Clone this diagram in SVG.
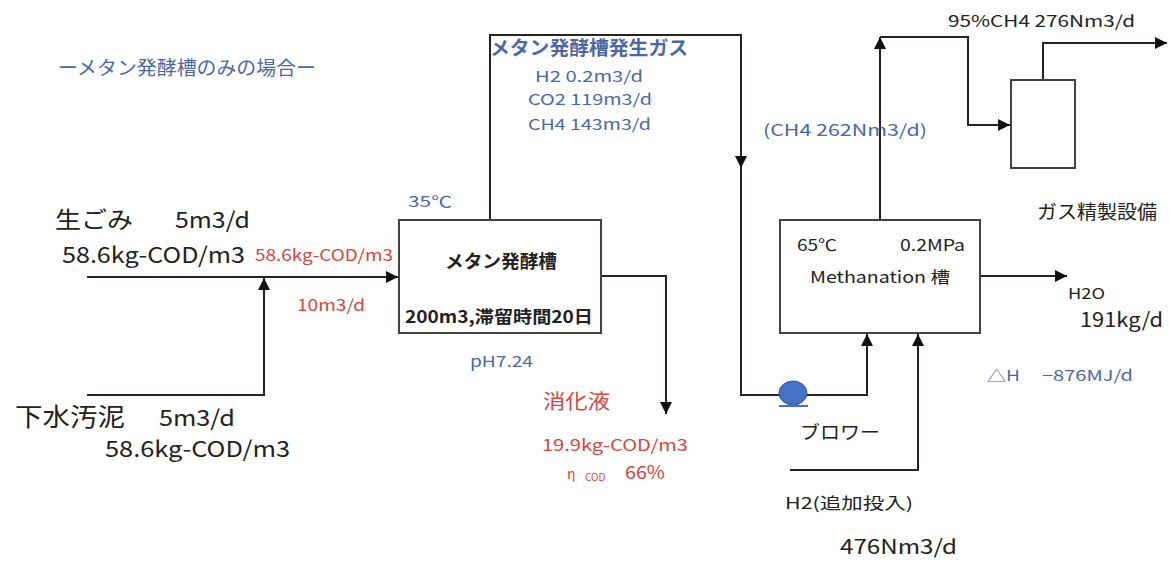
<svg xmlns="http://www.w3.org/2000/svg" width="1169" height="563" viewBox="0 0 1169 563">
<style>
text{font-family:"Noto Sans CJK JP","Liberation Sans",sans-serif;}
.k{fill:#222;}
.b{fill:#4a68a8;}
.r{fill:#d8453c;}
.box{fill:#fff;stroke:#4a4040;stroke-width:2;}
.ln{fill:none;stroke:#2a2222;stroke-width:2;}
.arr{marker-end:url(#ah);}
</style>
<defs>
<marker id="ah" viewBox="0 0 10 10" refX="10" refY="5" markerWidth="7" markerHeight="6" markerUnits="strokeWidth" orient="auto">
<path d="M0,0 L10,5 L0,10 Z" fill="#111"/>
</marker>
</defs>
<rect width="1169" height="563" fill="#fff"/>

<g id="connectors">
<path class="ln arr" d="M87,277 L398,277"/>
<path class="ln arr" d="M87,395 L264,395 L264,278"/>
<path class="ln" d="M490,220 L490,35 L741,35 L741,395 L867,395 L867,334"/>
<path class="ln arr" d="M741,35 L741,168"/>
<path class="ln arr" d="M867,395 L867,334"/>
<path class="ln arr" d="M601,276 L666,276 L666,414"/>
<path class="ln arr" d="M790,470 L918,470 L918,334"/>
<path class="ln arr" d="M880,220 L880,37"/>
<path class="ln arr" d="M880,37 L968,37 L968,125 L1010,125"/>
<path class="ln arr" d="M1043,80 L1043,43 L1167,43"/>
<path class="ln arr" d="M980,276 L1067,276"/>
</g>

<g id="title">
<text class="b" x="58" y="75" font-size="19" textLength="258" lengthAdjust="spacingAndGlyphs">ーメタン発酵槽のみの場合ー</text>
</g>

<g id="feed-garbage">
<text class="k" x="55" y="228" font-size="23" textLength="78" lengthAdjust="spacingAndGlyphs">生ごみ</text>
<text class="k" x="175" y="228" font-size="22" textLength="75" lengthAdjust="spacingAndGlyphs">5m3/d</text>
<text class="k" x="62" y="263" font-size="22" textLength="183" lengthAdjust="spacingAndGlyphs">58.6kg-COD/m3</text>
</g>

<g id="feed-sludge">
<text class="k" x="15" y="426" font-size="25" textLength="110" lengthAdjust="spacingAndGlyphs">下水汚泥</text>
<text class="k" x="159" y="426" font-size="22" textLength="76" lengthAdjust="spacingAndGlyphs">5m3/d</text>
<text class="k" x="105" y="457" font-size="22" textLength="185" lengthAdjust="spacingAndGlyphs">58.6kg-COD/m3</text>
</g>

<g id="mixed-feed">
<text class="r" x="255" y="261" font-size="16" textLength="138" lengthAdjust="spacingAndGlyphs">58.6kg-COD/m3</text>
<text class="r" x="297" y="311" font-size="16" textLength="68" lengthAdjust="spacingAndGlyphs">10m3/d</text>
</g>

<g id="digester">
<rect class="box" x="399" y="220" width="202" height="113"/>
<text class="k" x="445" y="268" font-size="18" font-weight="bold" textLength="112" lengthAdjust="spacingAndGlyphs">メタン発酵槽</text>
<text class="k" x="405" y="323" font-size="17" font-weight="bold" textLength="188" lengthAdjust="spacingAndGlyphs">200m3,滞留時間20日</text>
<text class="b" x="408" y="207" font-size="15" textLength="44" lengthAdjust="spacingAndGlyphs">35℃</text>
<text class="b" x="470" y="367" font-size="15" textLength="63" lengthAdjust="spacingAndGlyphs">pH7.24</text>
</g>

<g id="digester-gas">
<text class="b" x="490" y="55" font-size="19" font-weight="bold" textLength="198" lengthAdjust="spacingAndGlyphs">メタン発酵槽発生ガス</text>
<text class="b" x="535" y="82" font-size="15" textLength="108" lengthAdjust="spacingAndGlyphs">H2  0.2m3/d</text>
<text class="b" x="528" y="105" font-size="15" textLength="124" lengthAdjust="spacingAndGlyphs">CO2  119m3/d</text>
<text class="b" x="528" y="130" font-size="15" textLength="123" lengthAdjust="spacingAndGlyphs">CH4  143m3/d</text>
</g>

<g id="digestate">
<text class="r" x="543" y="409" font-size="20" textLength="67" lengthAdjust="spacingAndGlyphs">消化液</text>
<text class="r" x="542" y="451" font-size="16" textLength="146" lengthAdjust="spacingAndGlyphs">19.9kg-COD/m3</text>
<text class="r" x="567" y="479" font-size="14">η</text>
<text class="r" x="585" y="481" font-size="10">COD</text>
<text class="r" x="625" y="479" font-size="18" textLength="40" lengthAdjust="spacingAndGlyphs">66%</text>
</g>

<g id="blower">
<ellipse cx="793" cy="393" rx="14" ry="12" fill="#4472c4" stroke="#2f55a0" stroke-width="1"/>
<line x1="779" y1="406" x2="808" y2="406" stroke="#4472c4" stroke-width="2"/>
<text class="k" x="800" y="439" font-size="18" textLength="80" lengthAdjust="spacingAndGlyphs">ブロワー</text>
</g>

<g id="h2-feed">
<text class="k" x="785" y="509" font-size="16" textLength="128" lengthAdjust="spacingAndGlyphs">H2(追加投入)</text>
<text class="k" x="840" y="554" font-size="20" textLength="117" lengthAdjust="spacingAndGlyphs">476Nm3/d</text>
</g>

<g id="methanation">
<rect class="box" x="780" y="220" width="200" height="113"/>
<text class="k" x="797" y="251" font-size="16" textLength="40" lengthAdjust="spacingAndGlyphs">65℃</text>
<text class="k" x="900" y="251" font-size="16" textLength="65" lengthAdjust="spacingAndGlyphs">0.2MPa</text>
<text class="k" x="810" y="283" font-size="16" textLength="140" lengthAdjust="spacingAndGlyphs">Methanation 槽</text>
<text class="b" x="763" y="136" font-size="16" textLength="164" lengthAdjust="spacingAndGlyphs">(CH4 262Nm3/d)</text>
</g>

<g id="water-out">
<text class="k" x="1068" y="299" font-size="15" textLength="37" lengthAdjust="spacingAndGlyphs">H2O</text>
<text class="k" x="1080" y="327" font-size="20" textLength="83" lengthAdjust="spacingAndGlyphs">191kg/d</text>
<text class="b" x="987" y="381" font-size="15" textLength="33" lengthAdjust="spacingAndGlyphs">△H</text>
<text class="b" x="1042" y="381" font-size="15" textLength="91" lengthAdjust="spacingAndGlyphs">−876MJ/d</text>
</g>

<g id="gas-purifier">
<rect class="box" x="1011" y="80" width="64" height="88"/>
<text class="k" x="1037" y="219" font-size="19" textLength="120" lengthAdjust="spacingAndGlyphs">ガス精製設備</text>
<text class="k" x="948" y="27" font-size="16" textLength="187" lengthAdjust="spacingAndGlyphs">95%CH4  276Nm3/d</text>
</g>
</svg>
